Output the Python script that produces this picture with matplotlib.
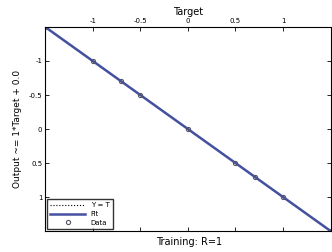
import numpy as np
import matplotlib.pyplot as plt

# regression plot (drawn upside down like the reference)
target = [-1.5, -1.0, -0.7, -0.5, 0.0, 0.5, 0.7, 1.0, 1.5]
output = [-1.5, -1.0, -0.7, -0.5, 0.0, 0.5, 0.7, 1.0, 1.5]
ticks = [-1, -0.5, 0, 0.5, 1]
tick_labels = ['-1', '-0.5', '0', '0.5', '1']
lims = [-1.5, 1.5]

fig = plt.figure(figsize=(3.32, 2.52), dpi=100)
ax = fig.add_axes([0.136, 0.083, 0.86, 0.81])

ax.plot(lims, lims, ':', color='k', lw=0.8, label='Y = T')
ax.plot(lims, lims, '-', color='#4450a0', lw=1.8, label='Fit')
ax.plot(target, output, 'o', mfc='none', mec='#555566', ms=3, mew=0.8, label='Data')

ax.set_xlim(lims)
ax.set_ylim(lims)
ax.invert_yaxis()
ax.xaxis.tick_top()
ax.xaxis.set_label_position('top')
ax.set_xticks(ticks)
ax.set_xticklabels(tick_labels)
ax.set_yticks(ticks)
ax.set_yticklabels(tick_labels)
ax.tick_params(direction='in', labelsize=5, length=3, width=0.6, pad=2, top=True, right=True, bottom=True)
for s in ax.spines.values():
    s.set_linewidth(0.8)

ax.set_xlabel('Target', fontsize=7, labelpad=2)
ax.set_ylabel('Output ~= 1*Target + 0.0', fontsize=6.5, labelpad=5)
fig.text(0.57, 0.02, 'Training: R=1', ha='center', va='bottom', fontsize=7)

ax.legend(loc='lower left', fontsize=5, frameon=True, fancybox=False, edgecolor='k',
          borderpad=0.5, handlelength=5, labelspacing=0.4, borderaxespad=0.25)

fig.savefig('out.png', dpi=100)
